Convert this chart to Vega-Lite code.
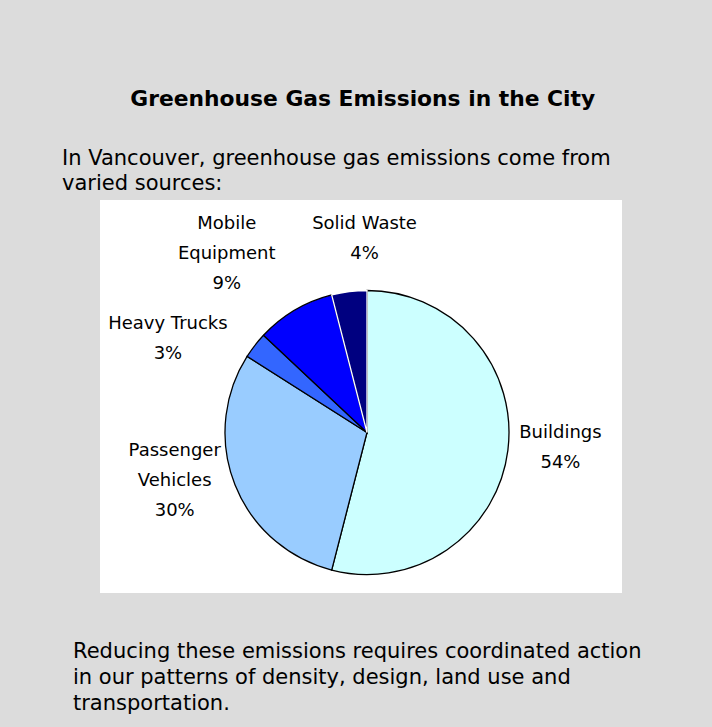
{
  "$schema": "https://vega.github.io/schema/vega-lite/v6.json",
  "background": "#dcdcdc",
  "padding": {"left": 62, "top": 89, "right": 90, "bottom": 0},
  "title": {
    "text": "Greenhouse Gas Emissions in the City",
    "anchor": "middle",
    "dx": 11,
    "font": "DejaVu Sans",
    "fontSize": 21.8,
    "fontWeight": "bold",
    "color": "#000000",
    "offset": 37
  },
  "spacing": 47,
  "config": {"view": {"stroke": null}},
  "vconcat": [
    {
      "width": 522,
      "height": 393,
      "view": {"fill": "#ffffff", "stroke": null},
      "title": {
        "text": ["In Vancouver, greenhouse gas emissions come from", "varied sources:"],
        "anchor": "start",
        "align": "left",
        "dx": -38,
        "offset": 6,
        "lineHeight": 25,
        "font": "DejaVu Sans",
        "fontSize": 21,
        "fontWeight": "normal",
        "color": "#000000"
      },
      "data": {
        "values": [
          {"source": "Buildings", "share": 54, "order": 1, "label": ["Buildings", "54%"]},
          {"source": "Passenger Vehicles", "share": 30, "order": 2, "label": ["Passenger", "Vehicles", "30%"]},
          {"source": "Heavy Trucks", "share": 3, "order": 3, "label": ["Heavy Trucks", "3%"]},
          {"source": "Mobile Equipment", "share": 9, "order": 4, "label": ["Mobile", "Equipment", "9%"]},
          {"source": "Solid Waste", "share": 4, "order": 5, "label": ["Solid Waste", "4%"]}
        ]
      },
      "encoding": {
        "theta": {"field": "share", "type": "quantitative", "stack": true},
        "order": {"field": "order", "type": "quantitative"}
      },
      "layer": [
        {
          "mark": {
            "type": "arc",
            "outerRadius": 142,
            "strokeWidth": 1.3,
            "x": {"expr": "522/2+6"},
            "y": {"expr": "393/2+36"}
          },
          "encoding": {
            "color": {
              "field": "source",
              "type": "nominal",
              "legend": null,
              "scale": {
                "domain": ["Buildings", "Passenger Vehicles", "Heavy Trucks", "Mobile Equipment", "Solid Waste"],
                "range": ["#ccffff", "#99ccff", "#3366ff", "#0000ff", "#000080"]
              }
            },
            "stroke": {
              "condition": {"test": "datum.source === 'Solid Waste'", "value": "#ffffff"},
              "value": "#000000"
            }
          }
        },
        {
          "mark": {
            "type": "text",
            "radius": 195,
            "dx": {"expr": "datum.source === 'Passenger Vehicles' ? -11 : datum.source === 'Heavy Trucks' ? -45 : datum.source === 'Mobile Equipment' ? -41 : datum.source === 'Solid Waste' ? 22 : 0"},
            "dy": {"expr": "datum.source === 'Buildings' ? -24 : datum.source === 'Passenger Vehicles' ? -53 : datum.source === 'Heavy Trucks' ? 11 : datum.source === 'Mobile Equipment' ? -41 : -15"},
            "x": {"expr": "522/2+6"},
            "y": {"expr": "393/2+36"},
            "align": "center",
            "baseline": "middle",
            "lineHeight": 30,
            "font": "DejaVu Sans",
            "fontSize": 18,
            "color": "#000000"
          },
          "encoding": {"text": {"field": "label", "type": "nominal"}}
        }
      ]
    },
    {
      "width": 522,
      "height": 1,
      "data": {"values": [{}]},
      "mark": {"type": "text"},
      "encoding": {"text": {"value": ""}},
      "title": {
        "text": ["Reducing these emissions requires coordinated action", "in our patterns of density, design, land use and", "transportation."],
        "anchor": "start",
        "align": "left",
        "dx": -27,
        "offset": 10,
        "lineHeight": 26,
        "font": "DejaVu Sans",
        "fontSize": 21,
        "fontWeight": "normal",
        "color": "#000000"
      }
    }
  ]
}
